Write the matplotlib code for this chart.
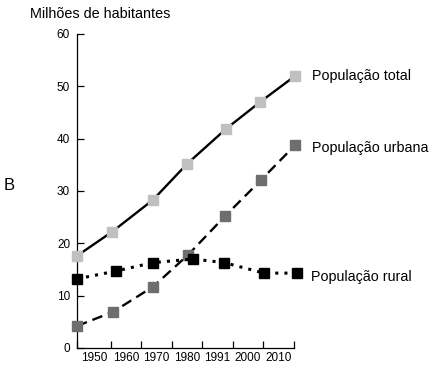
import matplotlib
matplotlib.use("Agg")
import matplotlib.pyplot as plt
import numpy as np

plt.rcParams["font.family"] = ["Liberation Sans", "DejaVu Sans"]

# --- data ---
tick_years = [1940, 1951, 1961, 1971, 1981, 1991, 2001, 2011]
tick_labels = ["1950", "1960", "1970", "1980", "1991", "2000", "2010"]

anos_total = [1940, 1951.5, 1964.9, 1976.1, 1988.9, 2000.0, 2011.5]
pop_total = [17.6, 22.2, 28.3, 35.2, 41.9, 47.0, 52.0]

anos_urbana = [1940, 1951.8, 1964.9, 1976.4, 1988.5, 2000.3, 2011.5]
pop_urbana = [4.2, 6.9, 11.7, 17.8, 25.2, 32.1, 38.8]

anos_rural = [1940, 1952.8, 1964.9, 1978.0, 1988.2, 2001.3, 2012.1]
pop_rural = [13.2, 14.7, 16.3, 17.0, 16.3, 14.3, 14.3]

fig = plt.figure(figsize=(4.31, 3.70), dpi=100)
ax = fig.add_axes([0.1787, 0.0595, 0.503, 0.849])

ms = 7.8
ax.plot(anos_urbana, pop_urbana, color="black", lw=1.7, linestyle=(0, (4.5, 2.5)),
        marker="s", markersize=ms, markerfacecolor="#6e6e6e", markeredgecolor="#6e6e6e",
        clip_on=False, zorder=3)
ax.plot(anos_rural, pop_rural, color="black", lw=2.2, linestyle=(0, (1, 2)),
        marker="s", markersize=ms, markerfacecolor="black", markeredgecolor="black",
        clip_on=False, zorder=3)
ax.plot(anos_total, pop_total, color="black", lw=1.7, linestyle="-",
        marker="s", markersize=ms, markerfacecolor="#c0c0c0", markeredgecolor="#c0c0c0",
        clip_on=False, zorder=4)

# series labels at the line ends
for anos, pop, nome, dx, dy in [
    (anos_total, pop_total, "População total", 12, 0),
    (anos_urbana, pop_urbana, "População urbana", 12, -2),
    (anos_rural, pop_rural, "População rural", 10, -3),
]:
    ax.annotate(nome, (anos[-1], pop[-1]), xytext=(dx, dy), textcoords="offset points",
                ha="left", va="center", fontsize=10.3, annotation_clip=False)

ax.set_xlim(tick_years[0], tick_years[-1])
ax.set_ylim(0, 60)
ax.set_yticks(np.arange(0, 61, 10))
ax.set_xticks(tick_years)
ax.set_xticklabels([])
mids = [(a + b) / 2 for a, b in zip(tick_years[:-1], tick_years[1:])]
ax.set_xticks(mids, minor=True)
ax.set_xticklabels(tick_labels, minor=True)

ax.tick_params(axis="both", which="major", direction="in", length=5, width=0.9,
               labelsize=8.5)
ax.tick_params(axis="y", pad=5)
ax.tick_params(axis="x", which="minor", length=0, labelsize=8.5, pad=3)

for side in ["top", "right"]:
    ax.spines[side].set_visible(False)
for side in ["left", "bottom"]:
    ax.spines[side].set_linewidth(0.9)

fig.text(30 / 431, 1 - 14 / 370, "Milhões de habitantes", fontsize=10.4, ha="left", va="center")
fig.text(4 / 431, 1 - 185 / 370, "B", fontsize=12, ha="left", va="center")

fig.savefig("out.png", dpi=100)
